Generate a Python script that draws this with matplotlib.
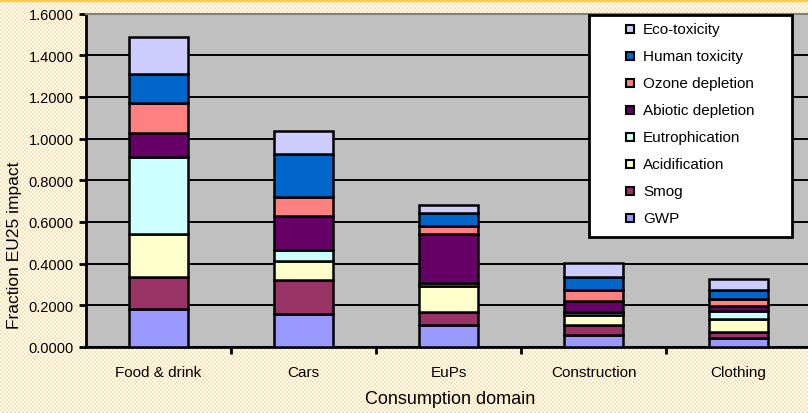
import matplotlib.pyplot as plt
import numpy as np
from matplotlib.patches import Rectangle

categories = ['Food & drink', 'Cars', 'EuPs', 'Construction', 'Clothing']
series = ['GWP', 'Smog', 'Acidification', 'Eutrophication', 'Abiotic depletion',
          'Ozone depletion', 'Human toxicity', 'Eco-toxicity']
gwp = [0.180, 0.158, 0.106, 0.058, 0.045]
smog = [0.157, 0.163, 0.063, 0.048, 0.026]
acidification = [0.207, 0.093, 0.125, 0.048, 0.062]
eutrophication = [0.367, 0.051, 0.014, 0.015, 0.040]
abiotic = [0.117, 0.165, 0.232, 0.053, 0.024]
ozone = [0.141, 0.091, 0.040, 0.053, 0.035]
human = [0.139, 0.205, 0.064, 0.059, 0.040]
eco = [0.181, 0.112, 0.037, 0.069, 0.054]
values = [gwp, smog, acidification, eutrophication, abiotic, ozone, human, eco]
colors = ['#9999FF', '#993366', '#FFFFCC', '#CCFFFF', '#660066', '#FF8080', '#0066CC', '#CCCCFF']

plt.rcParams['font.family'] = ['Liberation Sans', 'DejaVu Sans']

W, H = 808, 414
fig = plt.figure(figsize=(W / 100, H / 100), dpi=100)
fig.patch.set_facecolor('white')

# checkered background like the original sheet
yy, xx = np.mgrid[0:H, 0:W]
chk = ((xx // 2 + yy // 2) % 2).astype(float)
bg = np.ones((H, W, 3))
orange = np.array([255, 227, 172]) / 255
bg[chk == 1] = orange
fig.figimage(bg, 0, 0, zorder=-10)

def fx(px):
    return px / W

def fy(py):
    return 1 - py / H

ax = fig.add_axes([fx(86), fy(348), 725 / W, 333.5 / H])
ax.set_zorder(1)
ax.set_facecolor('#C0C0C0')

x = np.arange(len(categories))
bottom = np.zeros(len(categories))
for name, vals, c in zip(series, values, colors):
    ax.bar(x, vals, 0.41, bottom=bottom, color=c, edgecolor='black', linewidth=1.8, zorder=3)
    bottom += np.array(vals)

ax.set_xlim(-0.5, 4.5)
ax.set_ylim(0, 1.6)
yt = np.arange(0, 1.61, 0.2)
ax.set_yticks(yt)
ax.set_yticklabels(['%.4f' % v for v in yt], fontsize=10.5)
ax.yaxis.grid(True, color='black', linewidth=1.4, zorder=1)
ax.set_axisbelow(True)

ax.set_xticks(np.arange(0.5, 4.5, 1))
ax.set_xticklabels([])
ax.set_xticks(x, minor=True)
ax.set_xticklabels(categories, minor=True, fontsize=11)
ax.tick_params(axis='x', which='minor', length=0, pad=13)
ax.tick_params(axis='x', which='major', length=5, width=2, direction='out')
ax.tick_params(axis='y', length=5, width=2, direction='out', pad=4)

ax.spines['left'].set_linewidth(2)
ax.spines['bottom'].set_linewidth(2)
ax.spines['top'].set_color('#808080')
ax.spines['top'].set_linewidth(1.5)
ax.spines['right'].set_visible(False)

fig.text(fx(450), fy(400), 'Consumption domain', fontsize=13, ha='center', va='center')
fig.text(fx(15), fy(245), 'Fraction EU25 impact', fontsize=12.5, ha='center', va='center',
         rotation=90)

# legend box
fig.patches.append(Rectangle((fx(589), fy(238)), 203 / W, 222 / H, transform=fig.transFigure,
                             facecolor='white', edgecolor='black', linewidth=2, zorder=5))
for i, (name, c) in enumerate(zip(series[::-1], colors[::-1])):
    yc = 30 + 27.0 * i
    fig.patches.append(Rectangle((fx(626), fy(yc + 4)), 8 / W, 8 / H, transform=fig.transFigure,
                                 facecolor=c, edgecolor='black', linewidth=1.5, zorder=6))
    fig.text(fx(643), fy(yc), name, fontsize=11, ha='left', va='center', zorder=7)

fig.add_artist(plt.Line2D([0, 1], [fy(1), fy(1)], color='#FFC850', linewidth=2.5))

fig.savefig('out.png', dpi=100)
